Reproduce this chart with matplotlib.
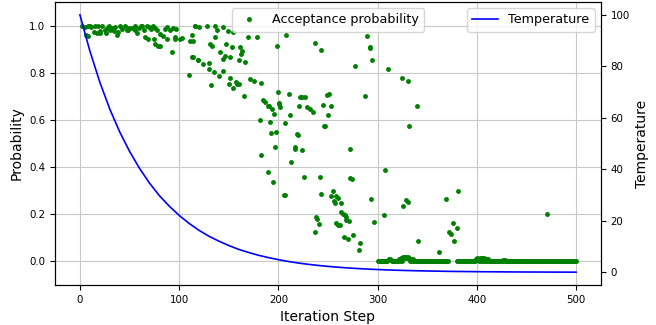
import numpy as np
import matplotlib.pyplot as plt

# acceptance probability (step, probability)
early_steps = [4.8, 8.1, 11.5, 15.5, 18.2, 7.8, 13.8, 17.2, 20.6, 24.9, 27.3, 30.6, 32.3, 35.7,
               38.4, 37.4, 42.4, 45.0, 47.5, 49.8, 55.1, 55.8, 59.2, 61.9, 64.3, 67.6, 70.0,
               73.3, 75.3, 85.4, 87.8, 90.4, 93.5, 96.9, 77.7, 81.0, 116.3, 120.4, 83.4, 95.5,
               101.0, 103.0, 111.3, 74.3, 76.0, 81.0, 92.8, 96.2, 66.0, 6.5, 20.6, 48.8, 57.6,
               69.0, 79.0, 88.0, 2.5, 10.0, 22.5, 26.0, 29.0, 34.0, 40.5, 52.0, 63.0, 71.5]
early_probs = [0.992, 1.0, 0.992, 0.996, 1.0, 0.955, 0.972, 0.969, 0.975, 0.983, 0.989, 0.983,
               0.989, 0.992, 0.972, 0.96, 0.986, 0.996, 0.979, 0.989, 1.0, 0.983, 0.989, 0.996,
               0.983, 1.0, 0.992, 1.0, 0.989, 0.986, 0.992, 0.979, 0.989, 0.986, 0.979, 0.965,
               0.996, 0.992, 0.955, 0.944, 0.944, 0.947, 0.936, 0.945, 0.92, 0.913, 0.889, 0.952,
               0.952, 0.958, 0.97, 0.979, 0.97, 0.945, 0.915, 0.945, 1.0, 0.996, 0.996, 0.969,
               0.996, 0.975, 0.996, 0.99, 0.998, 0.985]

mid_steps = [109.6, 113.0, 119.0, 116.3, 128.0, 136.5, 138.0, 144.6, 149.6, 154.6, 113.0, 114.3,
             136.5, 131.5, 133.0, 169.8, 170.0, 178.5, 147.6, 153.3, 161.7, 163.4, 162.4, 141.5,
             146.6, 144.3, 151.6, 160.0, 166.0, 114.0, 118.6, 123.7, 129.7, 129.7, 135.5, 139.8,
             143.9, 132.5, 151.6, 150.0, 157.7, 160.0, 154.3, 158.4, 171.8, 175.8, 182.6, 165.7,
             198.7, 207.8, 199.7, 184.6, 186.9, 189.2, 193.6, 200.3, 202.0, 190.2, 196.0, 200.7,
             211.0, 222.2, 224.2, 227.2, 221.2, 229.0, 231.5, 234.5, 212.0, 181.2, 192.0, 206.4,
             237.3, 243.3, 249.0, 245.0, 247.4, 218.9, 220.2, 192.6, 198.0, 216.4, 217.1, 224.2,
             196.7, 182.6, 213.1, 189.9, 194.7, 205.3, 206.4, 226.2]
mid_probs = [0.792, 0.866, 0.852, 1.0, 1.0, 0.997, 0.979, 0.993, 0.976, 0.972, 0.958, 0.936,
             0.953, 0.922, 0.915, 0.953, 1.025, 0.95, 0.922, 0.908, 0.908, 0.894, 0.88, 0.887,
             0.869, 0.859, 0.866, 0.855, 0.845, 0.866, 0.852, 0.838, 0.84, 0.816, 0.802, 0.788,
             0.809, 0.75, 0.778, 0.753, 0.76, 0.753, 0.736, 0.751, 0.774, 0.764, 0.755, 0.703,
             0.915, 0.962, 0.717, 0.685, 0.675, 0.657, 0.647, 0.668, 0.654, 0.661, 0.626, 0.671,
             0.71, 0.696, 0.699, 0.699, 0.657, 0.654, 0.645, 0.635, 0.619, 0.6, 0.59, 0.586,
             0.927, 0.897, 0.706, 0.665, 0.576, 0.542, 0.534, 0.545, 0.55, 0.487, 0.477, 0.473,
             0.484, 0.453, 0.421, 0.381, 0.336, 0.28, 0.28, 0.357]

late_steps = [289.4, 292.0, 292.7, 294.5, 277.0, 310.6, 324.7, 330.3, 339.8, 287.7, 250.7, 253.0,
              249.7, 246.4, 332.0, 271.9, 241.6, 272.6, 274.3, 243.0, 254.7, 253.4, 258.2, 260.2,
              255.7, 256.8, 263.2, 293.8, 307.9, 263.5, 264.8, 266.8, 268.5, 258.5, 260.2, 261.8,
              268.2, 270.9, 238.3, 239.0, 240.6, 237.3, 265.8, 269.9, 275.3, 282.0, 281.0, 296.0,
              306.1, 325.7, 328.7, 330.3, 369.0, 381.1, 340.8, 362.3, 372.4, 374.4, 376.1, 380.1,
              377.1, 471.0]
late_probs = [0.955, 0.908, 0.905, 0.856, 0.828, 0.816, 0.777, 0.767, 0.657, 0.703, 0.708, 0.661,
              0.619, 0.573, 0.573, 0.475, 0.357, 0.353, 0.35, 0.284, 0.297, 0.277, 0.277, 0.27,
              0.258, 0.249, 0.246, 0.263, 0.388, 0.209, 0.202, 0.195, 0.188, 0.162, 0.155, 0.153,
              0.174, 0.171, 0.19, 0.181, 0.16, 0.124, 0.103, 0.093, 0.114, 0.079, 0.047, 0.167,
              0.195, 0.237, 0.261, 0.251, 0.263, 0.297, 0.085, 0.04, 0.124, 0.117, 0.162, 0.141,
              0.086, 0.203]

# flat run of rejected moves near zero after step 300
zero_runs = [(300, 372), (380, 501)]
bump_steps = [310, 311, 312, 313, 322, 324, 326, 327, 328, 329, 330, 331, 332, 334, 336,
              399, 400, 401, 403, 405, 407, 409, 411, 426, 428]
bump_probs = [0.008, 0.012, 0.01, 0.008, 0.012, 0.015, 0.017, 0.018, 0.016, 0.018, 0.015,
              0.017, 0.013, 0.012, 0.009, 0.01, 0.014, 0.012, 0.016, 0.013, 0.015, 0.011,
              0.009, 0.008, 0.007]

# temperature, sampled every 10 steps
temp_steps = list(range(0, 501, 10))
temp_vals = [100, 86.0, 73.9, 63.5, 54.6, 47.0, 40.4, 34.7, 29.8, 25.7, 22.1, 19.0, 16.3, 14.0,
             12.1, 10.4, 8.9, 7.7, 6.6, 5.7, 4.9, 4.2, 3.6, 3.1, 2.66, 2.29, 1.97, 1.69, 1.45,
             1.25, 1.07, 0.92, 0.79, 0.68, 0.59, 0.51, 0.44, 0.37, 0.32, 0.28, 0.24, 0.21, 0.18,
             0.15, 0.13, 0.11, 0.10, 0.08, 0.07, 0.06, 0.05]

zero_steps = [s for a, b in zero_runs for s in range(a, b) if s not in bump_steps]
x = early_steps + mid_steps + late_steps + zero_steps + bump_steps
y = early_probs + mid_probs + late_probs + [0.0] * len(zero_steps) + bump_probs

fig, ax1 = plt.subplots(figsize=(6.56, 3.25), dpi=100)
fig.subplots_adjust(left=0.084, right=0.916, bottom=0.123, top=0.994)

ax1.plot(x, y, 'g.', markersize=5, label="Acceptance probability")
ax1.set_ylim(-0.1, 1.1)
ax1.set_xlabel("Iteration Step", fontsize=10)
ax1.set_ylabel("Probability", fontsize=10)
ax1.tick_params(labelsize=7.4)
ax1.grid(True, color='#c8c8c8')
ax1.legend(loc='upper center', fontsize=9.2)

ax2 = ax1.twinx()
ax2.plot(temp_steps, temp_vals, 'b-', lw=1.2, label="Temperature")
ax2.set_ylabel("Temperature", fontsize=10)
ax2.tick_params(labelsize=7.4)
ax2.legend(loc='upper right', fontsize=9.2)

plt.savefig('out.png')
